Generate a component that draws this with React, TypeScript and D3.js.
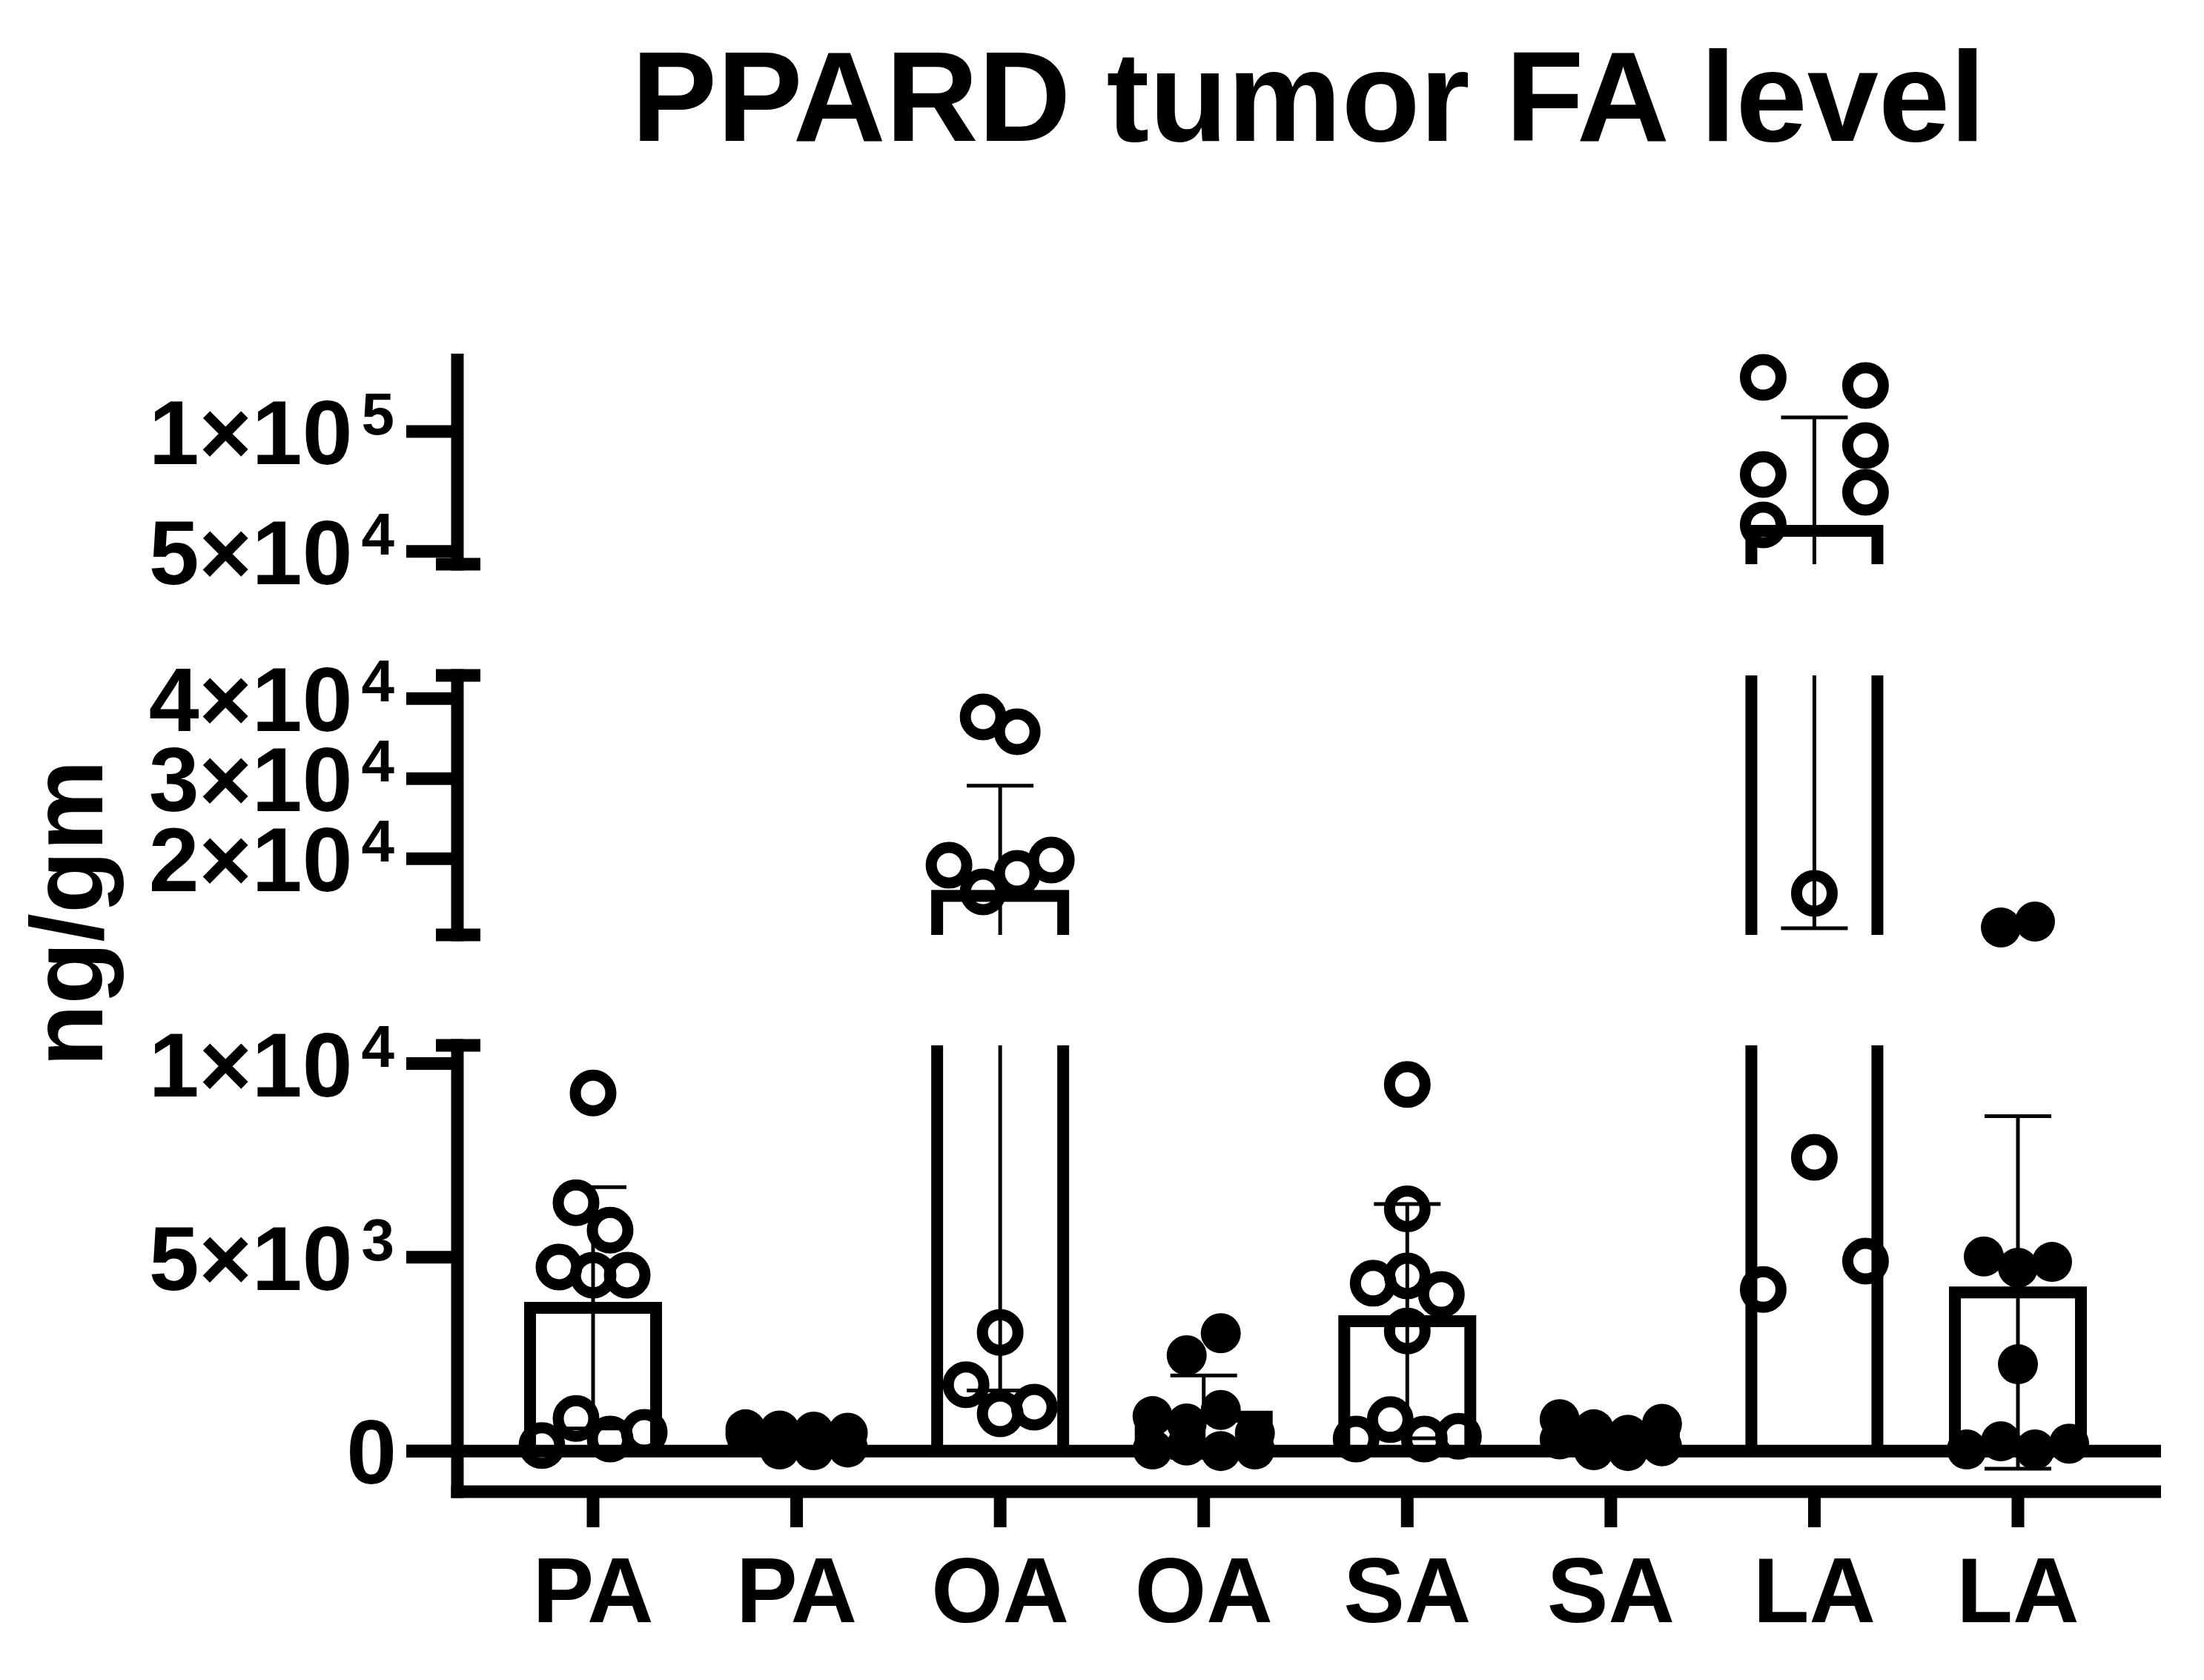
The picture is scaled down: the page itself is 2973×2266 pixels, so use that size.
import React from 'react';
import * as d3 from 'd3';

// ---- data (ng/gm) ----
const categories = ['PA', 'PA', 'OA', 'OA', 'SA', 'SA', 'LA', 'LA'];
const filledMarker = [false, true, false, true, false, true, false, true];

const paOpen = [9240, 6410, 5700, 4750, 4540, 4540, 140, 840, 310, 480];
const paFilled = [560, 530, 500, 470, 440, 400, 360, 90, 40, 20];
const oaOpen = [37710, 35860, 19180, 15840, 18160, 19830, 3060, 1710, 960, 1130];
const oaFilled = [2470, 3040, 900, 710, 1060, 460, 40, 140, 0, 40];
const saOpen = [9460, 6250, 4330, 4520, 4040, 3100, 310, 810, 310, 380];
const saFilled = [820, 560, 420, 700, 300, 40, 200, 120, 20, 0];
const laOpen = [122530, 119130, 82070, 94110, 61070, 74660, 15660, 7580, 4170, 4900];
const laFilled = [11400, 12140, 5020, 4730, 4880, 2240, 40, 250, 40, 190];

const groups = [paOpen, paFilled, oaOpen, oaFilled, saOpen, saFilled, laOpen, laFilled];

// broken y axis: three pieces, bottom to top
const lowerTicks = [0, 5000, 10000];
const middleTicks = [20000, 30000, 40000];
const upperTicks = [50000, 100000];
const segDomains = [[-1050, 10470], [10470, 42900], [44700, 132400]];
const segTicks = [lowerTicks, middleTicks, upperTicks];

const W = 2973;
const H = 2266;
const axisX = 617;
const xAxisY = 2012;
const xEnd = 2915;
const segRanges = [[xAxisY, 1410], [1261, 911], [761, 477]];
const FONT = "'Liberation Sans', Arial, Helvetica, sans-serif";

const segScales = segDomains.map((d, i) => d3.scaleLinear().domain(d).range(segRanges[i]));

const segOf = (v: number) => segDomains.findIndex(d => v >= d[0] && v <= d[1]);
const yOf = (v: number) => segScales[segOf(v)](v);

const x = d3.scalePoint<number>().domain(d3.range(categories.length)).range([800, 2722]);

const barW = 170;
const capHalf = 45;
const step = 46;
// wider spacing for pairs in the LA (open) column, as Prism drew it
const pairSpread = [1, 1, 1, 1, 1, 1, 3, 1];

// Prism-like scatter: rows of points with similar height are spread sideways
function swarm(values: number[], cx: number, spread: number) {
  const ys = values.map(yOf);
  const order = d3.range(values.length).sort((a, b) => ys[a] - ys[b]);
  const rows: number[][] = [];
  let cur: number[] = [];
  let start = 0;
  order.forEach(i => {
    if (cur.length && (ys[i] - start > 50 || cur.length >= 4)) {
      rows.push(cur);
      cur = [];
    }
    if (!cur.length) start = ys[i];
    cur.push(i);
  });
  if (cur.length) rows.push(cur);
  const xs: number[] = new Array(values.length);
  rows.forEach(r => {
    r.sort((a, b) => a - b);
    const s = r.length === 2 ? step * spread : step;
    r.forEach((i, k) => { xs[i] = cx + (k - (r.length - 1) / 2) * s; });
  });
  return values.map((v, i) => ({ x: xs[i], y: ys[i] }));
}

function tickLabel(v: number) {
  if (v === 0) return { m: '0', e: '' };
  const e = Math.floor(Math.log10(v));
  return { m: `${Math.round(v / Math.pow(10, e))}×10`, e: String(e) };
}

export default function App() {
  const stats = groups.map(g => ({ mean: d3.mean(g) as number, sd: d3.deviation(g) as number }));
  const zeroY = segScales[0](0);

  return (
    <svg width={W} height={H} style={{ position: 'absolute', left: 0, top: 0, background: '#fff' }}
      fontFamily={FONT} fontWeight="bold">
      <defs>
        {segRanges.map((r, i) => (
          <clipPath id={`seg${i}`} key={i}>
            <rect x={0} y={r[1]} width={W} height={r[0] - r[1]} />
          </clipPath>
        ))}
      </defs>

      <text x={1765} y={190} textAnchor="middle" fontSize={173}>PPARD tumor FA level</text>
      <text transform={`translate(138,1232) rotate(-90)`} textAnchor="middle" fontSize={138}>ng/gm</text>

      {/* zero line */}
      <line x1={548} x2={xEnd} y1={zeroY} y2={zeroY} stroke="#000" strokeWidth={17} />

      {/* bars and error bars, clipped per axis piece */}
      {segScales.map((s, si) => (
        <g key={si} clipPath={`url(#seg${si})`}>
          {stats.map((st, gi) => {
            const cx = x(gi) as number;
            const dom = segDomains[si];
            const lo = st.mean - st.sd;
            const hi = st.mean + st.sd;
            const yTop = s(st.mean);
            const yBase = s(0);
            return (
              <g key={gi}>
                {st.mean > dom[0] && (
                  <rect x={cx - barW / 2} y={yTop} width={barW} height={yBase - yTop}
                    fill="none" stroke="#000" strokeWidth={16} />
                )}
                <line x1={cx} x2={cx} y1={s(lo)} y2={s(hi)} stroke="#000" strokeWidth={5} />
                {hi >= dom[0] && hi <= dom[1] && (
                  <line x1={cx - capHalf} x2={cx + capHalf} y1={s(hi)} y2={s(hi)} stroke="#000" strokeWidth={5} />
                )}
                {lo >= dom[0] && lo <= dom[1] && (
                  <line x1={cx - capHalf} x2={cx + capHalf} y1={s(lo)} y2={s(lo)} stroke="#000" strokeWidth={5} />
                )}
              </g>
            );
          })}
        </g>
      ))}

      {/* points */}
      {groups.map((g, gi) => swarm(g, x(gi) as number, pairSpread[gi]).map((p, pi) => (
        filledMarker[gi]
          ? <circle key={`${gi}-${pi}`} cx={p.x} cy={p.y} r={27} fill="#000" />
          : <circle key={`${gi}-${pi}`} cx={p.x} cy={p.y} r={24} fill="none" stroke="#000" strokeWidth={15} />
      )))}

      {/* y axis pieces */}
      {segRanges.map((r, si) => (
        <g key={si}>
          <line x1={axisX} x2={axisX} y1={si === 2 ? r[1] : r[1] - 8.5} y2={r[0] + 8.5} stroke="#000" strokeWidth={17} />
          {si > 0 && <line x1={588} x2={648} y1={r[0]} y2={r[0]} stroke="#000" strokeWidth={17} />}
          {si < 2 && <line x1={588} x2={648} y1={r[1]} y2={r[1]} stroke="#000" strokeWidth={17} />}
          {segTicks[si].map(t => {
            const ty = segScales[si](t);
            const lab = tickLabel(t);
            return (
              <g key={t}>
                <line x1={548} x2={axisX} y1={ty} y2={ty} stroke="#000" strokeWidth={17} />
                <text x={t === 0 ? 535 : 532} y={ty + 44} textAnchor="end" fontSize={122}>
                  {lab.m}
                  {lab.e && <tspan dx={12} dy={-40} fontSize={80}>{lab.e}</tspan>}
                </text>
              </g>
            );
          })}
        </g>
      ))}

      {/* x axis */}
      <line x1={axisX - 8.5} x2={xEnd} y1={xAxisY} y2={xAxisY} stroke="#000" strokeWidth={17} />
      {categories.map((c, i) => (
        <g key={i}>
          <line x1={x(i)} x2={x(i)} y1={xAxisY} y2={2060} stroke="#000" strokeWidth={17} />
          <text x={x(i)} y={2188} textAnchor="middle" fontSize={124}>{c}</text>
        </g>
      ))}
    </svg>
  );
}
